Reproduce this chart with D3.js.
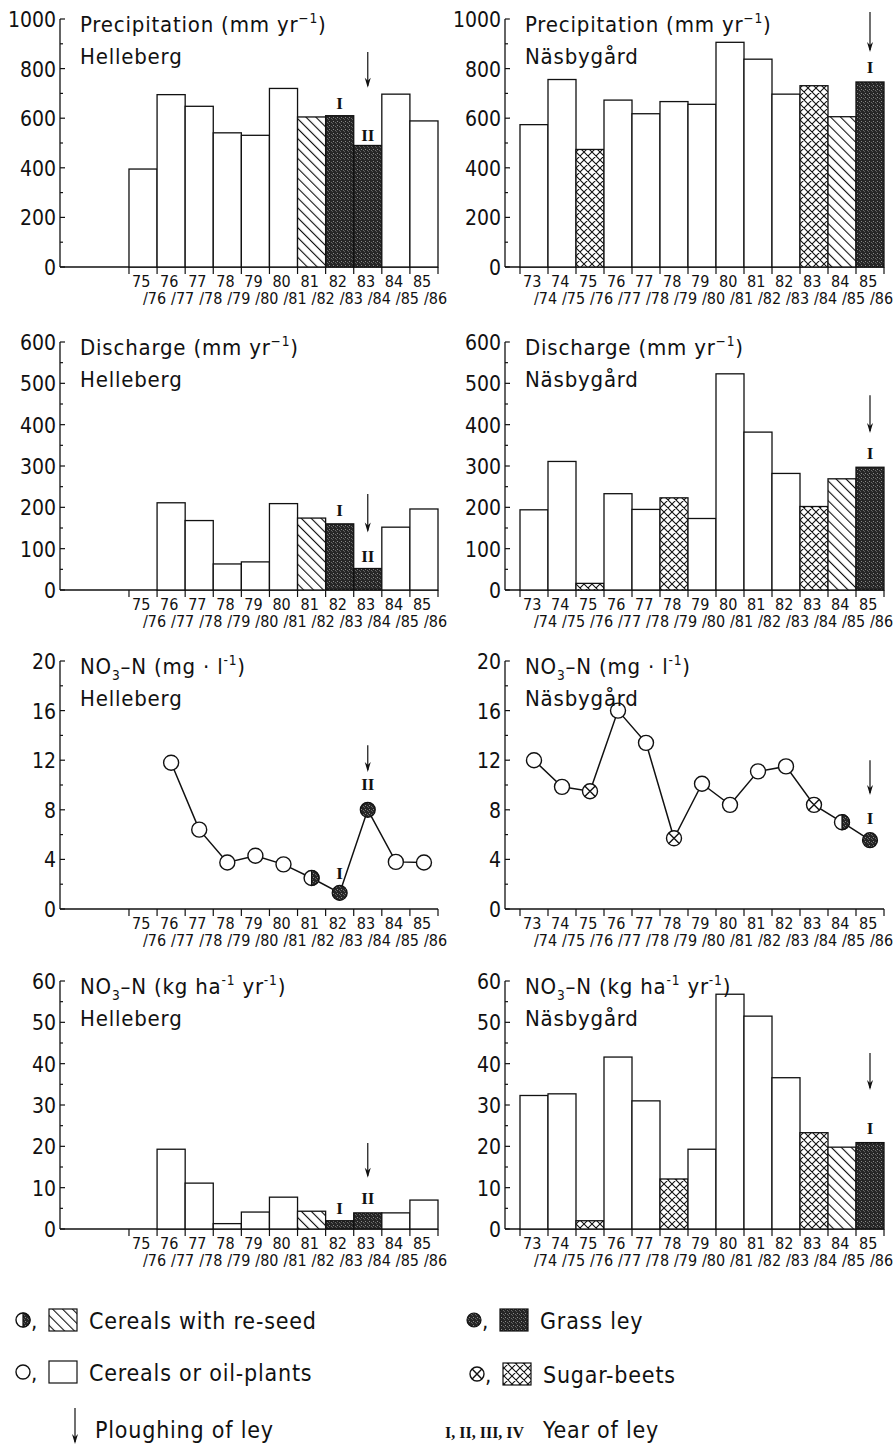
<!DOCTYPE html>
<html>
<head>
<meta charset="utf-8">
<script src="https://cdn.jsdelivr.net/npm/d3@7"></script>
<style>
  body { margin: 0; background: #fff; }
  text { font-family: "DejaVu Sans Condensed", "DejaVu Sans", sans-serif; fill: #111; }
  .roman { font-family: "Liberation Serif", "DejaVu Serif", serif; font-weight: bold; }
</style>
</head>
<body>
<svg id="chart" width="896" height="1448"></svg>
<script>
// hydrological years, 73/74 .. 85/86
const years = ['73/74', '74/75', '75/76', '76/77', '77/78', '78/79', '79/80',
  '80/81', '81/82', '82/83', '83/84', '84/85', '85/86'];

// crop per year: C cereals/oil-plants, R cereals with re-seed, G grass ley, S sugar-beets
const cropHelleberg = [null, null, 'C', 'C', 'C', 'C', 'C', 'C', 'R', 'G', 'G', 'C', 'C'];
const cropNasbygard = ['C', 'C', 'S', 'C', 'C', 'S', 'C', 'C', 'C', 'C', 'S', 'R', 'G'];
const cropNasbygardPrecip = ['C', 'C', 'S', 'C', 'C', 'C', 'C', 'C', 'C', 'C', 'S', 'R', 'G'];

const precipHelleberg = [null, null, 395, 695, 648, 541, 531, 720, 605, 610, 490, 697, 589];
const precipNasbygard = [574, 756, 474, 673, 618, 667, 656, 906, 838, 697, 731, 606, 746];

const dischargeHelleberg = [null, null, null, 211, 168, 63, 68, 209, 174, 160, 52, 152, 196];
const dischargeNasbygard = [194, 311, 16, 233, 195, 223, 173, 523, 382, 282, 202, 269, 297];

const nitrateConcHelleberg = [null, null, null, 11.8, 6.4, 3.75, 4.3, 3.6, 2.5, 1.3, 8.0, 3.8, 3.75];
const nitrateConcNasbygard = [12.0, 9.85, 9.5, 16.0, 13.4, 5.7, 10.1, 8.4, 11.1, 11.5, 8.4, 7.0, 5.55];

const nitrateLoadHelleberg = [null, null, null, 19.3, 11.1, 1.3, 4.1, 7.7, 4.3, 2.0, 3.9, 3.9, 7.0];
const nitrateLoadNasbygard = [32.3, 32.7, 2.0, 41.6, 31.0, 12.1, 19.3, 56.8, 51.5, 36.6, 23.3, 19.8, 20.9];

// y axes: [max, major step, minor step]
const precipTicks = [1000, 200, 100];
const dischargeTicks = [600, 100, 50];
const concTicks = [20, 4, 2];
const loadTicks = [60, 10, 5];

// titles (segments: plain, sup, sub)
const titlePrecip = [['Precipitation  (mm yr'], ['−1', 'sup'], [')']];
const titleDischarge = [['Discharge (mm yr'], ['−1', 'sup'], [')']];
const titleConc = [['NO'], ['3', 'sub'], ['–N (mg · l'], ['-1', 'sup'], [')']];
const titleLoad = [['NO'], ['3', 'sub'], ['–N (kg ha'], ['-1', 'sup'], [' yr'], ['-1', 'sup'], [')']];

// ploughing arrows [year, top value, tip value] and ley-year labels [year, value, label]
const plough = {
  precipH: ['83/84', 867, 723], precipN: ['85/86', 1028, 867],
  dischargeH: ['83/84', 232, 139], dischargeN: ['85/86', 471, 380],
  concH: ['83/84', 13.2, 11.05], concN: ['85/86', 12.0, 9.2],
  loadH: ['83/84', 20.8, 12.4], loadN: ['85/86', 42.6, 33.6]
};
const ley = {
  precipH: [['82/83', 663, 'I'], ['83/84', 534, 'II']], precipN: [['85/86', 807, 'I']],
  dischargeH: [['82/83', 193, 'I'], ['83/84', 83, 'II']], dischargeN: [['85/86', 331, 'I']],
  concH: [['82/83', 2.9, 'I'], ['83/84', 10.1, 'II']], concN: [['85/86', 7.35, 'I']],
  loadH: [['82/83', 5.1, 'I'], ['83/84', 7.6, 'II']], loadN: [['85/86', 24.5, 'I']]
};

const legendItems = [
  { crop: 'R', label: 'Cereals with re-seed' },
  { crop: 'G', label: 'Grass ley' },
  { crop: 'C', label: 'Cereals or oil-plants' },
  { crop: 'S', label: 'Sugar-beets' }
];

const svg = d3.select('#chart');
const ink = '#111';

// ---- patterns
const defs = svg.append('defs');
const hatch = defs.append('pattern').attr('id', 'hatch')
  .attr('patternUnits', 'userSpaceOnUse').attr('width', 7).attr('height', 7)
  .attr('patternTransform', 'rotate(-45)');
hatch.append('rect').attr('width', 7).attr('height', 7).attr('fill', '#fff');
hatch.append('line').attr('x1', 0).attr('y1', 0).attr('x2', 0).attr('y2', 7)
  .attr('stroke', ink).attr('stroke-width', 2.2);

const cross = defs.append('pattern').attr('id', 'cross')
  .attr('patternUnits', 'userSpaceOnUse').attr('width', 8).attr('height', 8);
cross.append('rect').attr('width', 8).attr('height', 8).attr('fill', '#fff');
cross.append('path').attr('d', 'M0,0L8,8M8,0L0,8M-1,7L1,9M7,-1L9,1M-1,1L1,-1M7,9L9,7')
  .attr('stroke', ink).attr('stroke-width', 1.1);

const stip = defs.append('pattern').attr('id', 'stip')
  .attr('patternUnits', 'userSpaceOnUse').attr('width', 4).attr('height', 4);
stip.append('rect').attr('width', 4).attr('height', 4).attr('fill', '#262626');
stip.append('rect').attr('x', 1).attr('y', 1).attr('width', 1).attr('height', 1).attr('fill', '#8a8a8a');
stip.append('rect').attr('x', 3).attr('y', 2).attr('width', 1).attr('height', 1).attr('fill', '#6a6a6a');
stip.append('rect').attr('x', 0).attr('y', 3).attr('width', 1).attr('height', 1).attr('fill', '#5a5a5a');

const barFill = { C: '#fff', R: 'url(#hatch)', G: 'url(#stip)', S: 'url(#cross)' };

// ---- layout
const rowTops = [19, 342, 661, 981];
const plotH = 248;
const sides = {
  H: { axisX: 60, range: [72.8, 438], firstLabel: 2 },
  N: { axisX: 505, range: [520, 884], firstLabel: 0 }
};

const panels = [
  { row: 0, side: 'H', kind: 'bar', values: precipHelleberg, crops: cropHelleberg, ticks: precipTicks, title: titlePrecip, site: 'Helleberg', key: 'precipH' },
  { row: 0, side: 'N', kind: 'bar', values: precipNasbygard, crops: cropNasbygardPrecip, ticks: precipTicks, title: titlePrecip, site: 'Näsbygård', key: 'precipN' },
  { row: 1, side: 'H', kind: 'bar', values: dischargeHelleberg, crops: cropHelleberg, ticks: dischargeTicks, title: titleDischarge, site: 'Helleberg', key: 'dischargeH' },
  { row: 1, side: 'N', kind: 'bar', values: dischargeNasbygard, crops: cropNasbygard, ticks: dischargeTicks, title: titleDischarge, site: 'Näsbygård', key: 'dischargeN' },
  { row: 2, side: 'H', kind: 'line', values: nitrateConcHelleberg, crops: cropHelleberg, ticks: concTicks, title: titleConc, site: 'Helleberg', key: 'concH' },
  { row: 2, side: 'N', kind: 'line', values: nitrateConcNasbygard, crops: cropNasbygard, ticks: concTicks, title: titleConc, site: 'Näsbygård', key: 'concN' },
  { row: 3, side: 'H', kind: 'bar', values: nitrateLoadHelleberg, crops: cropHelleberg, ticks: loadTicks, title: titleLoad, site: 'Helleberg', key: 'loadH' },
  { row: 3, side: 'N', kind: 'bar', values: nitrateLoadNasbygard, crops: cropNasbygard, ticks: loadTicks, title: titleLoad, site: 'Näsbygård', key: 'loadN' }
];

function writeRich(sel, segs, size) {
  let shift = 0;
  segs.forEach(([t, mode]) => {
    const target = mode === 'sup' ? -9 : mode === 'sub' ? 6 : 0;
    sel.append('tspan')
      .attr('dy', target - shift)
      .attr('font-size', mode ? size * 0.62 : size)
      .text(t);
    shift = target;
  });
}

function symbol(g, cx, cy, crop, r) {
  if (crop === 'G') {
    g.append('circle').attr('cx', cx).attr('cy', cy).attr('r', r)
      .attr('fill', 'url(#stip)').attr('stroke', ink).attr('stroke-width', 1.2);
    return;
  }
  g.append('circle').attr('cx', cx).attr('cy', cy).attr('r', r)
    .attr('fill', '#fff').attr('stroke', ink).attr('stroke-width', 1.4);
  if (crop === 'R') {
    g.append('path')
      .attr('d', `M${cx},${cy - r}A${r},${r} 0 0 1 ${cx},${cy + r}Z`)
      .attr('fill', 'url(#stip)').attr('stroke', ink).attr('stroke-width', 1.2);
  } else if (crop === 'S') {
    const k = r * 0.7;
    g.append('path')
      .attr('d', `M${cx - k},${cy - k}L${cx + k},${cy + k}M${cx + k},${cy - k}L${cx - k},${cy + k}`)
      .attr('stroke', ink).attr('stroke-width', 1.4);
  }
}

function drawArrow(g, x, yTop, yTip) {
  g.append('line').attr('x1', x).attr('x2', x).attr('y1', yTop).attr('y2', yTip - 2)
    .attr('stroke', ink).attr('stroke-width', 1.2);
  g.append('path').attr('d', `M${x - 3},${yTip - 10}L${x},${yTip}L${x + 3},${yTip - 10}L${x},${yTip - 7}Z`)
    .attr('fill', ink);
}

panels.forEach(p => {
  const s = sides[p.side];
  const top = rowTops[p.row];
  const y0 = top + plotH;
  const [max, major, minor] = p.ticks;
  const x = d3.scaleBand().domain(years).range(s.range).padding(0);
  const y = d3.scaleLinear().domain([0, max]).range([y0, top]);
  const g = svg.append('g');

  // y axis with inward ticks
  g.append('line').attr('x1', s.axisX).attr('x2', s.axisX).attr('y1', y(0)).attr('y2', y(max))
    .attr('stroke', ink).attr('stroke-width', 1.3);
  d3.range(0, max + 0.001, minor).forEach(v => {
    const isMajor = Math.abs(v / major - Math.round(v / major)) < 1e-6;
    g.append('line').attr('x1', s.axisX).attr('x2', s.axisX + (isMajor ? 5 : 3))
      .attr('y1', y(v)).attr('y2', y(v)).attr('stroke', ink).attr('stroke-width', 1.2);
    if (isMajor) {
      g.append('text').attr('x', s.axisX - 4).attr('y', y(v) + 8)
        .attr('text-anchor', 'end').attr('font-size', 21).text(v);
    }
  });

  // x baseline and year ticks
  g.append('line').attr('x1', s.axisX).attr('x2', s.range[1]).attr('y1', y0).attr('y2', y0)
    .attr('stroke', ink).attr('stroke-width', 1.3);
  years.forEach((yr, i) => {
    if (i < s.firstLabel) return;
    const xl = x(yr);
    g.append('line').attr('x1', xl).attr('x2', xl).attr('y1', y0).attr('y2', y0 + 7)
      .attr('stroke', ink).attr('stroke-width', 1.2);
    const [a, b] = yr.split('/');
    g.append('text').attr('x', xl + 3).attr('y', y0 + 20).attr('font-size', 16).text(a);
    g.append('text').attr('x', xl + 14).attr('y', y0 + 37).attr('font-size', 16).text('/' + b);
  });
  g.append('line').attr('x1', s.range[1]).attr('x2', s.range[1]).attr('y1', y0).attr('y2', y0 + 7)
    .attr('stroke', ink).attr('stroke-width', 1.2);

  const rows = years.map((yr, i) => ({ yr, v: p.values[i], crop: p.crops[i] }))
    .filter(d => d.v !== null);

  if (p.kind === 'bar') {
    g.selectAll('rect.bar').data(rows).join('rect').attr('class', 'bar')
      .attr('x', d => x(d.yr)).attr('width', x.bandwidth())
      .attr('y', d => y(d.v)).attr('height', d => y0 - y(d.v))
      .attr('fill', d => barFill[d.crop]).attr('stroke', ink).attr('stroke-width', 1.3);
  } else {
    const cx = d => x(d.yr) + x.bandwidth() / 2;
    g.append('path').datum(rows)
      .attr('d', d3.line().x(cx).y(d => y(d.v)))
      .attr('fill', 'none').attr('stroke', ink).attr('stroke-width', 1.5);
    rows.forEach(d => symbol(g, cx(d), y(d.v), d.crop, 7.5));
  }

  // title
  const tx = s.axisX + 20;
  writeRich(g.append('text').attr('x', tx).attr('y', top + 13).attr('font-size', 22)
    .attr('letter-spacing', 0.8), p.title, 22);
  g.append('text').attr('x', tx).attr('y', top + 45).attr('font-size', 22)
    .attr('letter-spacing', 0.8).text(p.site);

  // ploughing arrow and ley labels
  const [ay, aTop, aTip] = plough[p.key];
  drawArrow(g, x(ay) + x.bandwidth() / 2, y(aTop), y(aTip));
  ley[p.key].forEach(([ly, lv, lab]) => {
    g.append('text').attr('class', 'roman').attr('x', x(ly) + x.bandwidth() / 2).attr('y', y(lv) + 6)
      .attr('text-anchor', 'middle').attr('font-size', 17).text(lab);
  });
});

// ---- legend
const legend = svg.append('g');
const legendPos = [[23, 1320], [474, 1320], [23, 1372], [477, 1374]];
legendItems.forEach((it, i) => {
  const [lx, ly] = legendPos[i];
  symbol(legend, lx, ly, it.crop, 7);
  legend.append('text').attr('x', lx + 8).attr('y', ly + 9).attr('font-size', 22).text(',');
  legend.append('rect').attr('x', lx + 26).attr('y', ly - 11).attr('width', 28).attr('height', 22)
    .attr('fill', barFill[it.crop]).attr('stroke', ink).attr('stroke-width', 1.2);
  legend.append('text').attr('x', lx + 66).attr('y', ly + 9).attr('font-size', 23)
    .attr('letter-spacing', 0.8).text(it.label);
});
drawArrow(legend, 75, 1408, 1444);
legend.append('text').attr('x', 95).attr('y', 1438).attr('font-size', 23)
  .attr('letter-spacing', 0.8).text('Ploughing of ley');
legend.append('text').attr('class', 'roman').attr('x', 445).attr('y', 1438).attr('font-size', 16)
  .text('I, II, III, IV');
legend.append('text').attr('x', 543).attr('y', 1438).attr('font-size', 23)
  .attr('letter-spacing', 0.8).text('Year of ley');
</script>
</body>
</html>
